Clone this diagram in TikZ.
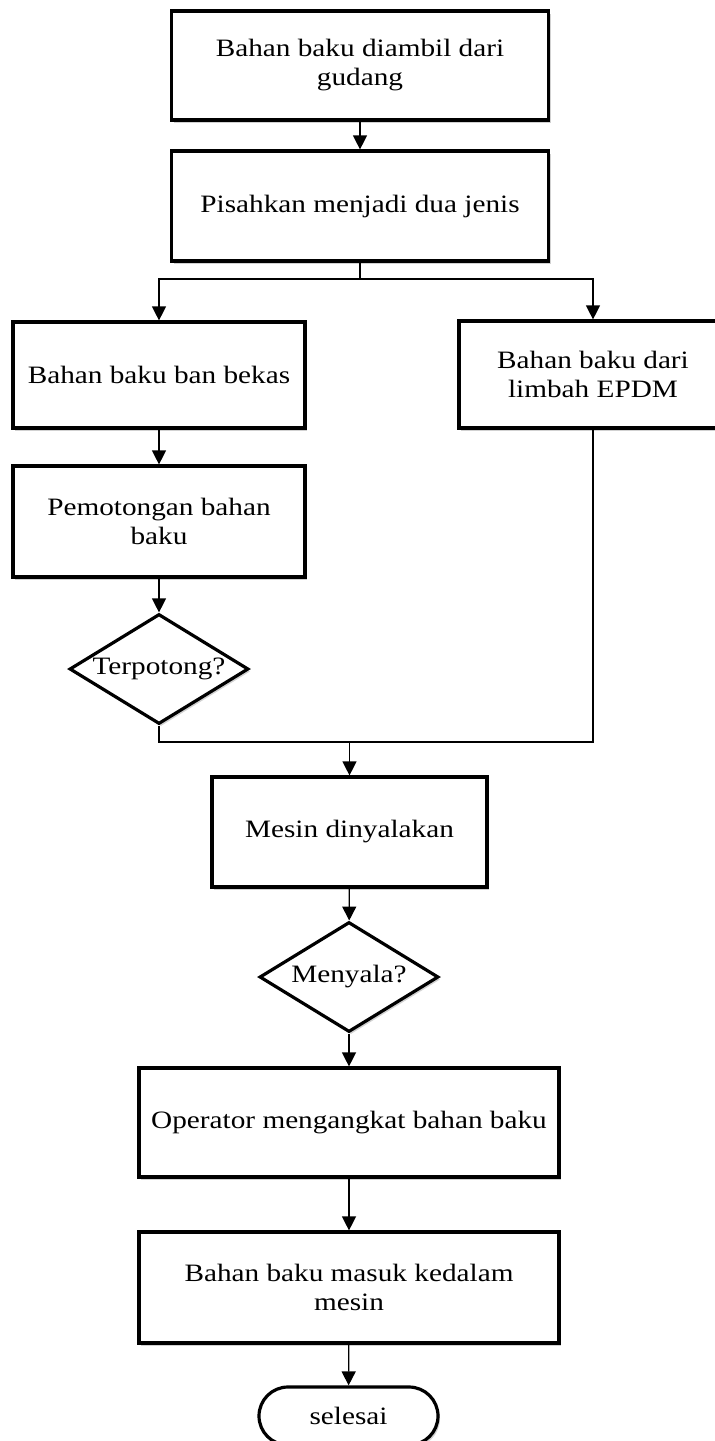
\documentclass[tikz,border=0pt]{standalone}
\usepackage{fontspec}
\setmainfont{Liberation Serif}[FakeStretch=1.17]
\usepackage{tikz}
\usetikzlibrary{arrows.meta,shapes.geometric,shapes.misc,shadows}
\tikzstyle{kotak}=[draw,rectangle,line width=3.2pt,fill=white,align=center,
  inner sep=0pt,font=\fontsize{25}{29}\selectfont,
  drop shadow={shadow xshift=2pt,shadow yshift=-2.5pt,fill=black,opacity=0.18}]
\tikzstyle{keputusan}=[kotak,diamond,aspect=1.63]
\tikzstyle{ujung}=[kotak,rounded rectangle]
\tikzstyle{panah}=[line width=1.3pt,-{Triangle[width=14pt,length=14pt]}]
\tikzstyle{garis}=[line width=1.3pt]

\begin{document}
\begin{tikzpicture}[x=1pt,y=-1pt]
\useasboundingbox (0,0) rectangle (715,1441);

\node[kotak,minimum width=377pt,minimum height=109pt](ambil) at (360,65.5)
	{Bahan baku diambil dari\\gudang};
\node[kotak,minimum width=377pt,minimum height=110pt](pisah) at (360,206)
	{Pisahkan menjadi dua jenis};

\node[kotak,minimum width=292pt,minimum height=106pt](bekas) at (159,375)
	{Bahan baku ban bekas};
\node[kotak,minimum width=268pt,minimum height=107pt](epdm) at (593,374.5)
	{Bahan baku dari\\limbah EPDM};
\node[kotak,minimum width=292pt,minimum height=111pt](potong) at (159,521.5)
	{Pemotongan bahan\\baku};
\node[keputusan,minimum width=179pt,minimum height=110pt](terpotong) at (159,669)
	{Terpotong?};

\node[kotak,minimum width=275pt,minimum height=110pt](mesin) at (349.5,832)
	{Mesin dinyalakan};
\node[keputusan,minimum width=179pt,minimum height=110pt](menyala) at (349,977)
	{Menyala?};
\node[kotak,minimum width=420pt,minimum height=109pt](operator) at (349,1122.5)
	{Operator mengangkat bahan baku};
\node[kotak,minimum width=420pt,minimum height=111pt](masuk) at (349,1287.5)
	{Bahan baku masuk kedalam\\mesin};
\node[ujung,minimum width=179pt,minimum height=58pt](selesai) at (348.5,1416)
	{selesai};

\coordinate (cabang) at (360,279);
\coordinate (gabung) at (349.5,742);

\draw[panah] (ambil) -- (pisah);
\draw[garis] (pisah) -- (cabang);
\draw[panah] (cabang) -| (bekas.north);
\draw[panah] (cabang) -| (epdm.north);
\draw[panah] (bekas) -- (potong);
\draw[panah] (potong) -- (terpotong);
\draw[garis] (terpotong.south) |- (gabung) -| (epdm.south);
\draw[panah] (gabung) -- (mesin);
\draw[panah] (mesin) -- (menyala);
\draw[panah] (menyala) -- (operator);
\draw[panah] (operator) -- (masuk);
\draw[panah] (masuk) -- (selesai);

\end{tikzpicture}
\end{document}
